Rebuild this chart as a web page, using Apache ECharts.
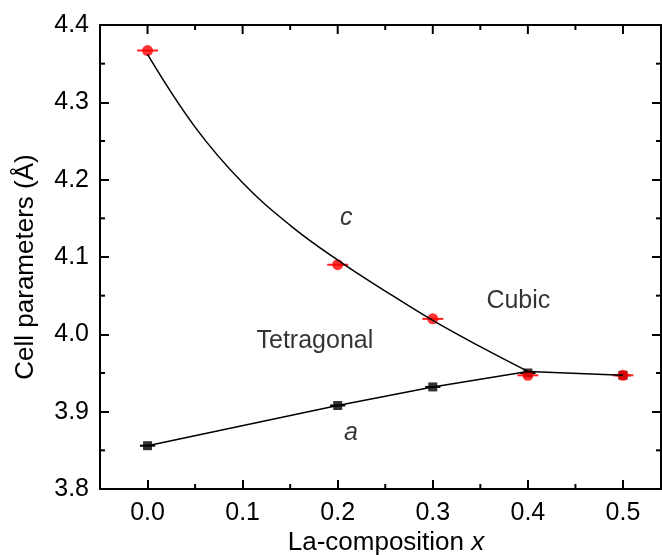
<!DOCTYPE html>
<html>
<head>
<meta charset="utf-8">
<style>
  html, body { margin: 0; padding: 0; background: #fff; }
  #main { width: 662px; height: 555px; }
</style>
<script src="https://cdn.jsdelivr.net/npm/echarts@6/dist/echarts.min.js"></script>
</head>
<body>
<div id="main"></div>
<script>
// measured compositions
var xs = [0, 0.2, 0.3, 0.4, 0.5];
var cVals = [4.367, 4.090, 4.020, 3.947, 3.947];
var aVals = [3.856, 3.908, 3.932, 3.950, 3.947];
var cErr = [0.011, 0.011, 0.011, 0.011, 0.011];
var aErr = [0.008, 0.008, 0.008, 0.008, 0.008];

// fitted curve for c
var cFitX = [0, 0.05, 0.1, 0.15, 0.2, 0.25, 0.3, 0.35, 0.4];
var cFit = [4.362, 4.268, 4.196, 4.141, 4.096, 4.056, 4.018, 3.984, 3.952];

// line through a, joining the cubic branch
var aLineX = [0, 0.2, 0.3, 0.4, 0.5];
var aLine = [3.856, 3.908, 3.932, 3.952, 3.947];

// tick values
var xMajorTicks = [0, 0.1, 0.2, 0.3, 0.4, 0.5];
var xMinorTicks = [0.05, 0.15, 0.25, 0.35, 0.45];
var yMinorTicks = [3.85, 3.95, 4.05, 4.15, 4.25, 4.35];

var notes = [
  { text: 'c', x: 0.209, y: 4.150, italic: true },
  { text: 'a', x: 0.214, y: 3.872, italic: true },
  { text: 'Cubic', x: 0.390, y: 4.043, italic: false },
  { text: 'Tetragonal', x: 0.176, y: 3.991, italic: false }
];

var X_MIN = -0.05, X_MAX = 0.54;
var Y_MIN = 3.8, Y_MAX = 4.4;

var FONT = 'Liberation Sans';
var FS = 25;

function pairs(xa, ya) {
  return xa.map(function (x, i) { return [x, ya[i]]; });
}

function errBars(vals, errs) {
  return xs.map(function (x, i) { return [x, vals[i], errs[i]]; });
}

function errRender(color) {
  return function (params, api) {
    var x = api.value(0), y = api.value(1), e = api.value(2);
    var p1 = api.coord([x - e, y]);
    var p2 = api.coord([x + e, y]);
    return {
      type: 'line',
      shape: { x1: p1[0], y1: p1[1], x2: p2[0], y2: p2[1] },
      style: { stroke: color, lineWidth: 2 }
    };
  };
}

var tickStyle = { stroke: '#000', lineWidth: 2 };

// extra x ticks: [value, y, kind]  kind 1 = top only (major), 0 = minor on both sides
var xTickData = xMajorTicks.map(function (v) { return [v, Y_MIN, 1]; })
  .concat(xMinorTicks.map(function (v) { return [v, Y_MIN, 0]; }));

function xTickRender(params, api) {
  var v = api.value(0), kind = api.value(2);
  var b = api.coord([v, Y_MIN]), t = api.coord([v, Y_MAX]);
  var len = kind === 1 ? 9 : 5;
  var kids = [{ type: 'line', shape: { x1: t[0], y1: t[1], x2: t[0], y2: t[1] + len }, style: tickStyle }];
  if (kind === 0) {
    kids.push({ type: 'line', shape: { x1: b[0], y1: b[1], x2: b[0], y2: b[1] - len }, style: tickStyle });
  }
  return { type: 'group', children: kids };
}

// minor y ticks on left and right
var yTickData = yMinorTicks.map(function (v) { return [X_MIN, v]; });

function yTickRender(params, api) {
  var v = api.value(1);
  var l = api.coord([X_MIN, v]), r = api.coord([X_MAX, v]);
  return {
    type: 'group',
    children: [
      { type: 'line', shape: { x1: l[0], y1: l[1], x2: l[0] + 5, y2: l[1] }, style: tickStyle },
      { type: 'line', shape: { x1: r[0], y1: r[1], x2: r[0] - 5, y2: r[1] }, style: tickStyle }
    ]
  };
}

var axisLine = { show: true, onZero: false, lineStyle: { color: '#000', width: 2 } };

function xAxis(pos, labels) {
  return {
    type: 'value', position: pos, min: X_MIN, max: X_MAX,
    axisLine: axisLine,
    axisTick: { show: labels, inside: true, length: 9, lineStyle: { color: '#000', width: 2 } },
    axisLabel: {
      show: labels, showMinLabel: false, showMaxLabel: false, margin: 12,
      color: '#000', fontSize: FS, fontFamily: FONT,
      formatter: function (v) { return v.toFixed(1); }
    },
    splitLine: { show: false }
  };
}

function yAxis(pos, labels) {
  return {
    type: 'value', position: pos, min: Y_MIN, max: Y_MAX, interval: 0.1,
    axisLine: axisLine,
    axisTick: { show: true, inside: true, length: 9, lineStyle: { color: '#000', width: 2 } },
    axisLabel: {
      show: labels, margin: 11, color: '#000', fontSize: FS, fontFamily: FONT,
      formatter: function (v) { return v.toFixed(1); }
    },
    splitLine: { show: false }
  };
}

var myChart = echarts.init(document.getElementById('main'));
var option = {
  animation: false,
  grid: { left: 100, top: 25, right: 1, bottom: 66, outerBoundsMode: 'none' },
  xAxis: [xAxis('bottom', true), xAxis('top', false)],
  yAxis: [yAxis('left', true), yAxis('right', false)],
  graphic: [
    {
      type: 'text', x: 386, y: 543,
      style: {
        text: 'La-composition {i|x}', fill: '#000', font: '26px "Liberation Sans"',
        align: 'center', verticalAlign: 'middle',
        rich: { i: { fontStyle: 'italic', fontSize: 26, fontFamily: FONT, fill: '#000' } }
      }
    },
    {
      type: 'text', x: 26, y: 267, rotation: Math.PI / 2,
      style: {
        text: 'Cell parameters (Å)', fill: '#000', font: '26px "Liberation Sans"',
        align: 'center', verticalAlign: 'middle'
      }
    }
  ],
  series: [
    { type: 'custom', silent: true, renderItem: xTickRender, data: xTickData },
    { type: 'custom', silent: true, renderItem: yTickRender, data: yTickData },
    {
      type: 'line', smooth: 0.4, symbol: 'none',
      data: pairs(cFitX, cFit),
      lineStyle: { color: '#000', width: 1.5 }
    },
    {
      type: 'line', symbol: 'none',
      data: pairs(aLineX, aLine),
      lineStyle: { color: '#000', width: 1.5 }
    },
    {
      type: 'custom', renderItem: errRender('#000'),
      data: errBars(aVals, aErr)
    },
    {
      type: 'scatter', symbol: 'rect', symbolSize: 9,
      data: pairs(xs, aVals), itemStyle: { color: '#000' }
    },
    {
      type: 'custom', renderItem: errRender('#ff2020'),
      data: errBars(cVals, cErr)
    },
    {
      type: 'scatter', symbol: 'circle', symbolSize: 11,
      data: pairs(xs, cVals), itemStyle: { color: '#ff0000' }
    },
    {
      type: 'scatter', symbolSize: 0,
      data: notes.map(function (n) {
        return {
          value: [n.x, n.y], name: n.text,
          label: { fontStyle: n.italic ? 'italic' : 'normal' }
        };
      }),
      label: {
        show: true, position: 'inside', formatter: '{b}',
        color: '#000', fontSize: FS, fontFamily: FONT
      }
    }
  ]
};
myChart.setOption(option);
</script>
</body>
</html>
